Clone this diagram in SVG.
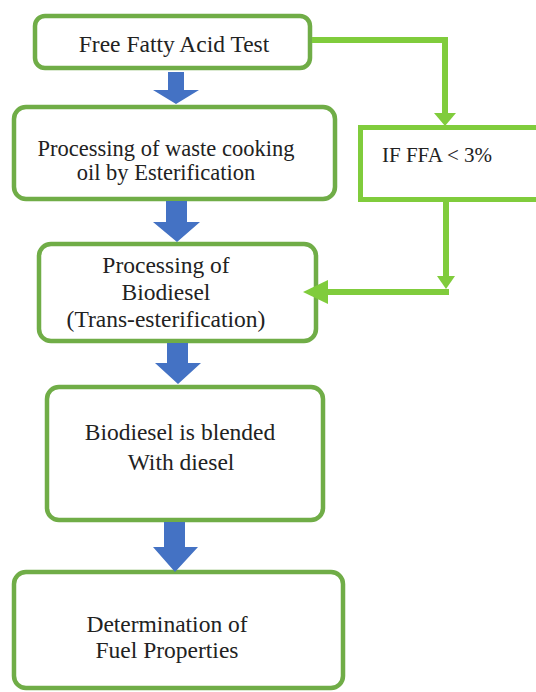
<svg xmlns="http://www.w3.org/2000/svg" width="536" height="692" viewBox="0 0 536 692">
<style>
.box{fill:#ffffff;stroke:#70ad47;stroke-width:4.5}
.cond{fill:#ffffff;stroke:#80cc3c;stroke-width:5}
text{font-family:"Liberation Serif","DejaVu Serif","Times New Roman",serif;fill:#222222}
.t{font-size:23.5px;text-anchor:middle}
.tl{font-size:21px}
.conn{fill:none;stroke:#80cc3c;stroke-width:6}
.head{fill:#80cc3c}
.blue{fill:#4472c4}
</style>
<rect width="536" height="692" fill="#ffffff"/>
<g id="n1">
<rect class="box" x="35" y="16" width="275" height="52" rx="10"/>
<text class="t" x="174" y="51.5" font-family="Liberation Serif, serif">Free Fatty Acid Test</text>
</g>
<g id="n2">
<rect class="box" x="14" y="107" width="321" height="92" rx="12"/>
<text class="t" x="166" y="156" font-family="Liberation Serif, serif" style="font-size:22.5px">Processing of waste cooking</text>
<text class="t" x="166" y="180" font-family="Liberation Serif, serif" style="font-size:22.5px">oil by Esterification</text>
</g>
<g id="n3">
<rect class="box" x="39" y="244" width="277" height="97" rx="12"/>
<text class="t" x="166" y="273" font-family="Liberation Serif, serif">Processing of</text>
<text class="t" x="166" y="300" font-family="Liberation Serif, serif">Biodiesel</text>
<text class="t" x="166" y="327" font-family="Liberation Serif, serif">(Trans-esterification)</text>
</g>
<g id="n4">
<rect class="box" x="47" y="387" width="276" height="133" rx="12"/>
<text class="t" x="180" y="440" font-family="Liberation Serif, serif">Biodiesel is blended</text>
<text class="t" x="181" y="470" font-family="Liberation Serif, serif">With diesel</text>
</g>
<g id="n5">
<rect class="box" x="14" y="572" width="329" height="116" rx="12"/>
<text class="t" x="167" y="632" font-family="Liberation Serif, serif">Determination of</text>
<text class="t" x="167" y="658" font-family="Liberation Serif, serif">Fuel Properties</text>
</g>
<g id="n6">
<rect class="cond" x="360.5" y="127.5" width="200" height="72"/>
<text class="tl" x="382" y="162" font-family="Liberation Serif, serif">IF FFA &lt; 3%</text>
</g>
<g id="connectors">
<polygon class="blue" points="168,72 184,72 184,90 199,90 176,104 153,90 168,90"/>
<polygon class="blue" points="166,201 187,201 187,222 200,222 177,242 153,222 166,222"/>
<polygon class="blue" points="167,343 188,343 188,363 201,363 178,384 155,363 167,363"/>
<polygon class="blue" points="164,522 185,522 185,547 198,547 175,572 153,547 164,547"/>
<path class="conn" d="M312 40 H445 V114"/>
<polygon class="head" points="434,113 456,113 445,126"/>
<path class="conn" d="M446 202 V277"/>
<polygon class="head" points="437,276 455,276 446,289"/>
<path class="conn" d="M449 292 H326"/>
<polygon class="head" points="328,280 328,304 303,292"/>
</g>
</svg>
